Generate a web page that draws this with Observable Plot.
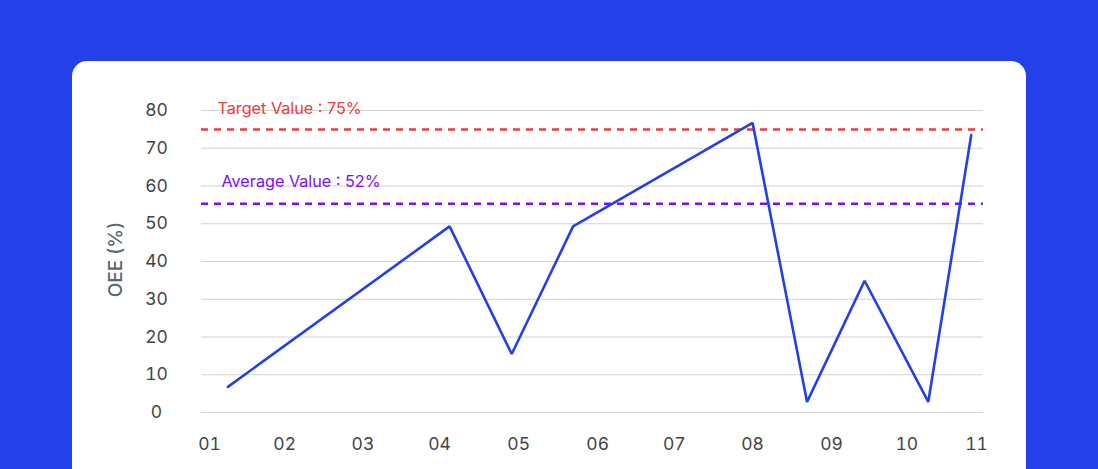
<!DOCTYPE html>
<html>
<head>
<meta charset="utf-8">
<script src="https://cdn.jsdelivr.net/npm/d3@7"></script>
<script src="https://cdn.jsdelivr.net/npm/@observablehq/plot@0.6"></script>
<style>
  html, body { margin: 0; padding: 0; }
  body { width: 1098px; height: 469px; background: #2440E8; position: relative; overflow: hidden; font-family: Inter, "Open Sans", sans-serif; }
  #card { position: absolute; left: 72px; top: 61px; width: 954px; height: 460px; background: #ffffff; border-radius: 15px; }
  #chart { position: absolute; left: 0; top: 0; }
</style>
</head>
<body>
<div id="card"></div>
<div id="chart"></div>
<script>
// x positions (in week units) of the plotted points and their OEE values (%)
const pointX = [1.24, 4.13, 4.94, 5.74, 8.08, 8.79, 9.54, 10.37, 10.93];
const oee = [6.8, 49.3, 15.5, 49.3, 76.7, 2.8, 34.9, 2.8, 73.5];
// x-axis tick positions and their labels
const tickPos = [1, 1.98, 3.0, 4.0, 5.03, 6.06, 7.06, 8.08, 9.11, 10.09, 11];
const tickLabels = ["01", "02", "03", "04", "05", "06", "07", "08", "09", "10", "11"];
const yTicks = [0, 10, 20, 30, 40, 50, 60, 70, 80];
// reference lines
const targetValue = 75;
const targetLabel = "Target Value : 75%";
const averageLine = 55.3;
const averageLabel = "Average Value : 52%";
const yLabel = "OEE (%)";

const data = pointX.map((x, i) => ({x, y: oee[i]}));
const labelOf = new Map(tickPos.map((p, i) => [p, tickLabels[i]]));

const chart = Plot.plot({
  width: 1098,
  height: 469,
  marginLeft: 201,
  marginRight: 115,
  marginTop: 110,
  marginBottom: 57,
  style: {background: "transparent", fontFamily: "Inter, 'Open Sans', sans-serif"},
  x: {domain: [0.896, 11.09], axis: null},
  y: {domain: [0, 80], axis: null},
  marks: [
    Plot.gridY(yTicks, {stroke: "#d2d2d2", strokeOpacity: 1, strokeWidth: 1.2}),
    Plot.axisY(yTicks, {label: null, tickSize: 0, tickPadding: 45, textAnchor: "middle", fontSize: 17.5, fill: "#444", tickFormat: d => String(d)}),
    Plot.axisX(tickPos, {label: null, tickSize: 0, tickPadding: 25, fontSize: 17.5, fill: "#444", tickFormat: d => labelOf.get(d)}),
    Plot.text([yLabel], {frameAnchor: "left", textAnchor: "middle", dx: -86, dy: -2, rotate: -90, fontSize: 19, fontWeight: 500, fill: "#5b6677", style: "letter-spacing:0.5px"}),
    Plot.ruleY([targetValue], {stroke: "#E93C3C", strokeWidth: 2.5, strokeDasharray: "7,6"}),
    Plot.ruleY([averageLine], {stroke: "#7A10F2", strokeWidth: 2.5, strokeDasharray: "7,6"}),
    Plot.text([targetValue], {y: d => d, text: () => targetLabel, frameAnchor: "left", dx: 16, dy: -21, textAnchor: "start", fontSize: 16.2, fill: "#E93C3C"}),
    Plot.text([averageLine], {y: d => d, text: () => averageLabel, frameAnchor: "left", dx: 20, dy: -21.5, textAnchor: "start", fontSize: 16.2, fill: "#7A10F2"}),
    Plot.line(data, {x: "x", y: "y", stroke: "#2340E6", strokeWidth: 2.6, strokeLinejoin: "miter"})
  ]
});
document.getElementById("chart").appendChild(chart);
</script>
</body>
</html>
